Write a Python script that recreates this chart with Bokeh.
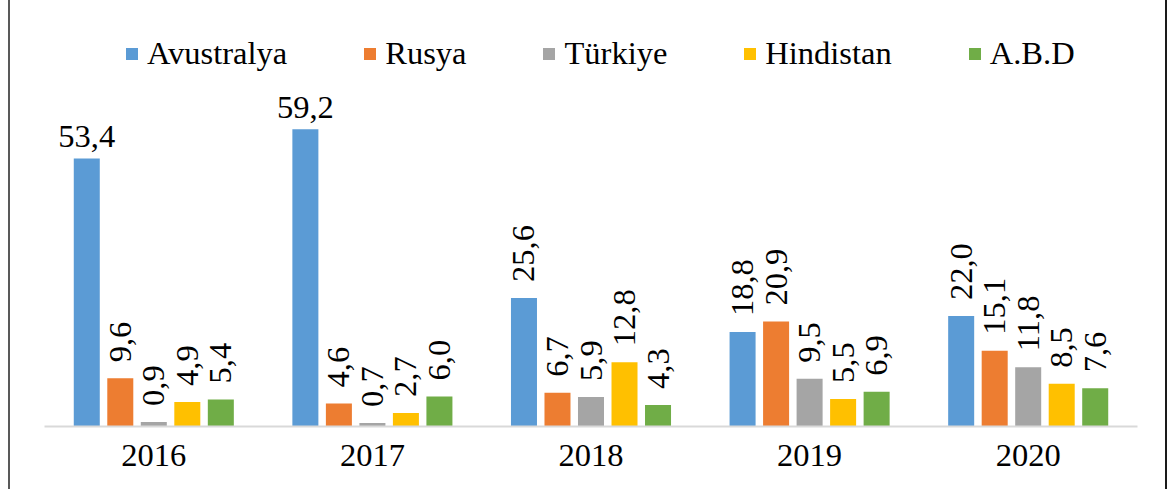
from math import pi
from bokeh.plotting import figure
from bokeh.models import ColumnDataSource, Legend, LegendItem, FactorRange, Label, InlineStyleSheet
from bokeh.transform import dodge
from bokeh.embed import file_html
from bokeh.resources import INLINE

# ---- data ----
years = ["2016", "2017", "2018", "2019", "2020"]
series_names = ["Avustralya", "Rusya", "Türkiye", "Hindistan", "A.B.D"]
avustralya = [53.4, 59.2, 25.6, 18.8, 22.0]
rusya = [9.6, 4.6, 6.7, 20.9, 15.1]
turkiye = [0.9, 0.7, 5.9, 9.5, 11.8]
hindistan = [4.9, 2.7, 12.8, 5.5, 8.5]
abd = [5.4, 6.0, 4.3, 6.9, 7.6]
colors = ["#5B9BD5", "#ED7D31", "#A5A5A5", "#FFC000", "#70AD47"]

series_values = [avustralya, rusya, turkiye, hindistan, abd]

FONT_NAME = "Liberation Serif"
FS = "32.5px"
PX_PER_UNIT = 5.02
FRAME_H = 426
W, H = 1159, 489
ML, MR = 34, 32

css = InlineStyleSheet(css="""
text, svg text, :host text { font-family: 'Liberation Serif', serif !important; }
""")

p = figure(
    x_range=FactorRange(*years),
    y_range=(0, FRAME_H / PX_PER_UNIT),
    width=W, height=H,
    output_backend="svg", toolbar_location=None,
    min_border_left=ML, min_border_right=MR,
    min_border_top=0, min_border_bottom=H - FRAME_H,
    styles={"margin-left": "8px",
            "border-left": "2px solid #595959",
            "border-right": "2px solid #1a1a1a"},
    stylesheets=[css],
)
p.outline_line_color = None
p.xgrid.visible = False
p.ygrid.visible = False
p.yaxis.visible = False
p.xaxis.axis_line_color = "#D9D9D9"
p.xaxis.axis_line_width = 2
p.xaxis.major_tick_line_color = None
p.xaxis.minor_tick_line_color = None
p.xaxis.major_label_text_font = FONT_NAME
p.xaxis.major_label_text_font_size = FS
p.xaxis.major_label_text_color = "#000000"
p.xaxis.major_label_standoff = 12

STEP = 0.1533
BAR_W = 0.119

items = []
for i, (name, vals) in enumerate(zip(series_names, series_values)):
    off = (i - 2) * STEP
    src = ColumnDataSource(dict(year=years, val=vals))
    r = p.vbar(x=dodge("year", off, range=p.x_range), top="val", width=BAR_W,
               source=src, fill_color=colors[i], line_color=None)
    items.append(LegendItem(label=name, renderers=[r]))
    for k, v in enumerate(vals):
        txt = f"{v:.1f}".replace(".", ",")
        rotated = v < 50
        # numeric x = categorical synthetic coordinate (category centre = k + 0.5)
        lab = Label(
            x=k + 0.5 + off, y=v,
            y_offset=16 if rotated else 11,
            text=txt, angle=pi / 2 if rotated else 0,
            text_align="left" if rotated else "center",
            text_baseline="middle" if rotated else "bottom",
            text_font=FONT_NAME, text_font_size=FS, text_color="#000000",
        )
        p.add_layout(lab)

legend = Legend(
    items=items, orientation="horizontal", location=(80, 354),
    border_line_color=None, background_fill_alpha=0,
    padding=0, margin=0, spacing=75, label_standoff=8,
    glyph_width=15, glyph_height=15,
    label_text_font=FONT_NAME, label_text_font_size=FS,
    label_text_color="#000000",
)
p.add_layout(legend)

open("out.html", "w").write(file_html(p, INLINE))
